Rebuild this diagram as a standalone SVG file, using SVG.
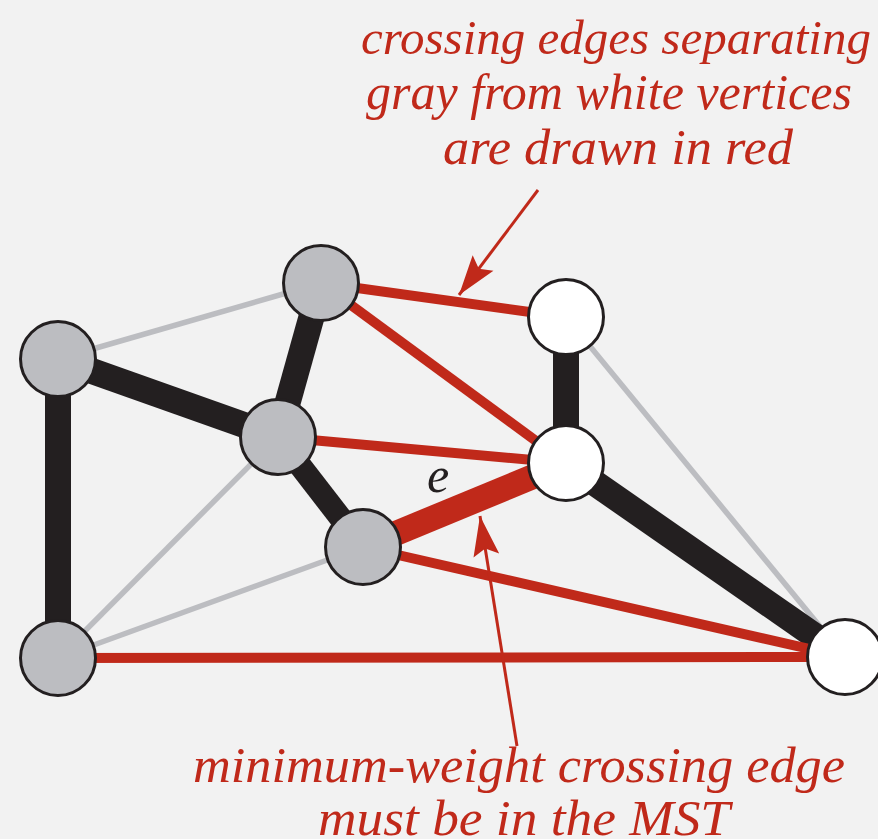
<svg xmlns="http://www.w3.org/2000/svg" width="878" height="839" viewBox="0 0 878 839">
<style>
.bg{fill:#f2f2f2}
.gray{stroke:#bcbdc1;stroke-width:5.5;fill:none}
.tree{stroke:#231f20;stroke-width:26;fill:none}
.cross{stroke:#c0291a;stroke-width:10;fill:none}
.min{stroke:#c0291a;stroke-width:25;fill:none}
.ptr{stroke:#c0291a;stroke-width:3;fill:none}
.gv{fill:#bcbdc1;stroke:#231f20;stroke-width:3}
.wv{fill:#ffffff;stroke:#231f20;stroke-width:3}
.note{font-family:"Liberation Serif","Times New Roman",serif;font-style:italic;font-size:50px;fill:#c0291a}
.lbl{font-family:"Liberation Serif","Times New Roman",serif;font-style:italic;font-size:50px;fill:#231f20}
</style>
<defs>
<marker id="arrow" markerUnits="userSpaceOnUse" viewBox="-42 -15 44 30" markerWidth="44" markerHeight="30" refX="0" refY="0" orient="auto">
<path d="M0,0 L-40,-13 L-33,0 L-40,13 Z" fill="#c0291a"/>
</marker>
</defs>
<rect class="bg" x="0" y="0" width="878" height="839"/>
<g id="connectors">
<line class="gray" x1="58" y1="359" x2="321" y2="283"/>
<line class="gray" x1="278" y1="437" x2="58" y2="658"/>
<line class="gray" x1="363" y1="547" x2="58" y2="658"/>
<line class="gray" x1="566" y1="317" x2="845" y2="657"/>
<line class="tree" x1="58" y1="359" x2="278" y2="437"/>
<line class="tree" x1="58" y1="359" x2="58" y2="658"/>
<line class="tree" x1="321" y1="283" x2="278" y2="437"/>
<line class="tree" x1="278" y1="437" x2="363" y2="547" style="stroke-width:23"/>
<line class="tree" x1="566" y1="317" x2="566" y2="463"/>
<line class="tree" x1="566" y1="463" x2="845" y2="657"/>
<line class="cross" x1="321" y1="283" x2="566" y2="317"/>
<line class="cross" x1="321" y1="283" x2="566" y2="463"/>
<line class="cross" x1="278" y1="437" x2="566" y2="463"/>
<line class="cross" x1="363" y1="547" x2="845" y2="657"/>
<line class="cross" x1="58" y1="658" x2="845" y2="657"/>
<line class="min" x1="363" y1="547" x2="566" y2="463"/>
<line class="ptr" x1="538" y1="190" x2="459" y2="295" marker-end="url(#arrow)"/>
<line class="ptr" x1="517" y1="746" x2="480" y2="516" marker-end="url(#arrow)"/>
</g>
<g id="vA"><circle class="gv" cx="58" cy="359" r="37.5"/></g>
<g id="vB"><circle class="gv" cx="321" cy="283" r="37.5"/></g>
<g id="vC"><circle class="gv" cx="278" cy="437" r="37.5"/></g>
<g id="vD"><circle class="gv" cx="363" cy="547" r="37.5"/></g>
<g id="vE"><circle class="gv" cx="58" cy="658" r="37.5"/></g>
<g id="vF"><circle class="wv" cx="566" cy="317" r="37.5"/></g>
<g id="vG"><circle class="wv" cx="566" cy="463" r="37.5"/></g>
<g id="vH"><circle class="wv" cx="845" cy="657" r="37.5"/></g>
<g id="label-e"><text class="lbl" x="427" y="492">e</text></g>
<g id="note-top">
<text class="note" x="361" y="54" style="font-size:49px">crossing edges separating</text>
<text class="note" x="366" y="109" textLength="486" lengthAdjust="spacingAndGlyphs">gray from white vertices</text>
<text class="note" x="443" y="164" textLength="350" lengthAdjust="spacingAndGlyphs">are drawn in red</text>
</g>
<g id="note-bottom">
<text class="note" x="193" y="782" textLength="652" lengthAdjust="spacingAndGlyphs">minimum-weight crossing edge</text>
<text class="note" x="318" y="835" textLength="412" lengthAdjust="spacingAndGlyphs">must be in the MST</text>
</g>
</svg>
